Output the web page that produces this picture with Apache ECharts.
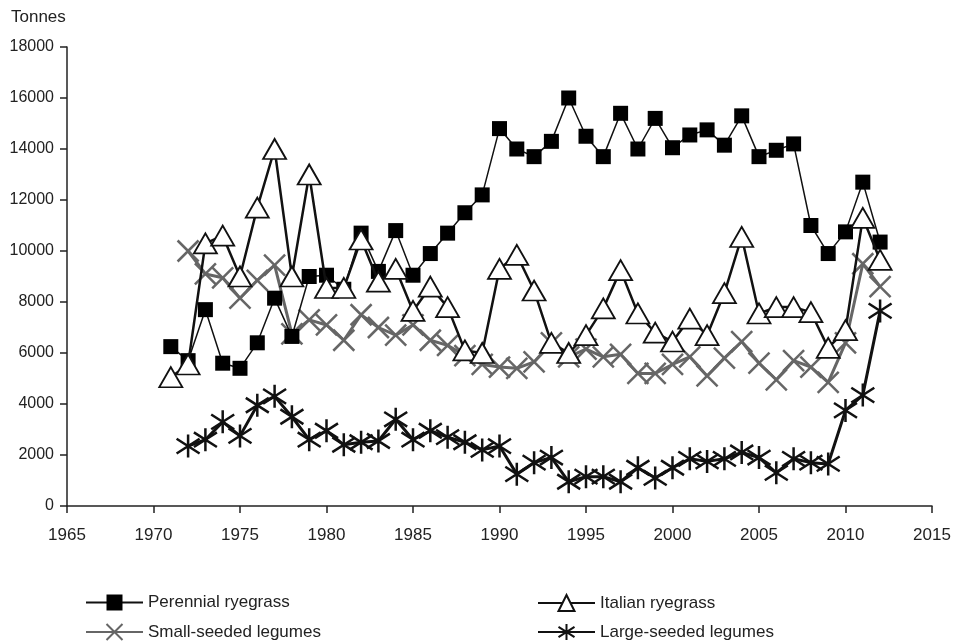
<!DOCTYPE html>
<html>
<head>
<meta charset="utf-8">
<script src="https://cdn.jsdelivr.net/npm/echarts@6/dist/echarts.min.js"></script>
<style>
html,body{margin:0;padding:0;background:#fff;}
#chart{width:960px;height:641px;}
</style>
</head>
<body>
<div id="chart"></div>
<script>
const years = [1971,1972,1973,1974,1975,1976,1977,1978,1979,1980,1981,1982,1983,1984,1985,1986,1987,1988,1989,1990,1991,1992,1993,1994,1995,1996,1997,1998,1999,2000,2001,2002,2003,2004,2005,2006,2007,2008,2009,2010,2011,2012];
const perennial = [6250,5700,7700,5600,5400,6400,8150,6650,9000,9050,8500,10700,9200,10800,9050,9900,10700,11500,12200,14800,14000,13700,14300,16000,14500,13700,15400,14000,15200,14050,14550,14750,14150,15300,13700,13950,14200,11000,9900,10750,12700,10350];
const italian = [5050,5550,10300,10600,9000,11700,14000,9000,13000,8550,8550,10450,8800,9300,7650,8600,7800,6100,6000,9300,9850,8450,6400,6000,6700,7750,9250,7550,6800,6450,7350,6700,8350,10550,7550,7800,7800,7600,6200,6900,11300,9650];
const smallYears = years.slice(1);
const smallSeeded = [10000,9100,8950,8150,8850,9450,6750,7300,7100,6500,7500,7000,6700,7100,6500,6300,5900,5550,5450,5400,5650,6400,5850,6150,5850,5950,5200,5200,5550,5850,5100,5800,6450,5600,4950,5700,5450,4850,6400,9500,8600];
const largeSeeded = [2350,2600,3300,2750,3950,4300,3500,2600,2950,2400,2500,2550,3400,2600,2950,2700,2500,2200,2350,1250,1700,1900,950,1150,1150,950,1500,1100,1500,1850,1750,1850,2100,1900,1300,1850,1700,1650,3750,4350,7650];
const seriesNames = ['Perennial ryegrass','Italian ryegrass','Small-seeded legumes','Large-seeded legumes'];
const yTitle = 'Tonnes';

const pairs = (xs, vs) => xs.map((x, i) => [x, vs[i]]);
const FONT = 'Liberation Sans, Arial, sans-serif';
const crossPath = 'path://M0,0L10,10M10,0L0,10';
const starPath = 'path://M5,0L5,10M1.3,1.8L8.7,8.2M8.7,1.8L1.3,8.2';

const chart = echarts.init(document.getElementById('chart'), null, {renderer: 'canvas'});
const legendBase = {
  orient: 'horizontal', itemWidth: 57, itemHeight: 20, itemGap: 10,
  textStyle: {fontFamily: FONT, fontSize: 17, color: '#222'},
  selectedMode: false
};
chart.setOption({
  animation: false,
  backgroundColor: '#fff',
  title: {text: yTitle, left: 11, top: 9, padding: 0, textStyle: {fontFamily: FONT, fontSize: 17, fontWeight: 'normal', color: '#222'}},
  grid: {left: 67, right: 28, top: 47, bottom: 135, containLabel: false},
  legend: [
    Object.assign({}, legendBase, {data: [seriesNames[0]], left: 80, top: 589}),
    Object.assign({}, legendBase, {data: [seriesNames[1]], left: 532, top: 589}),
    Object.assign({}, legendBase, {data: [seriesNames[2]], left: 80, top: 618}),
    Object.assign({}, legendBase, {data: [seriesNames[3]], left: 532, top: 618})
  ],
  xAxis: {
    type: 'value', min: 1965, max: 2015, interval: 5,
    axisLine: {lineStyle: {color: '#222', width: 1.5}},
    axisTick: {show: true, length: 7, lineStyle: {color: '#222', width: 1.5}},
    axisLabel: {fontFamily: FONT, fontSize: 17, color: '#222', margin: 21, formatter: v => String(v)},
    splitLine: {show: false}
  },
  yAxis: {
    type: 'value', min: 0, max: 18000, interval: 2000,
    axisLine: {show: true, lineStyle: {color: '#222', width: 1.5}},
    axisTick: {show: true, length: 7, lineStyle: {color: '#222', width: 1.5}},
    axisLabel: {fontFamily: FONT, fontSize: 16, color: '#222', margin: 13, formatter: v => String(v)},
    splitLine: {show: false}
  },
  series: [
    {
      name: seriesNames[2], type: 'line', z: 2, data: pairs(smallYears, smallSeeded),
      symbol: crossPath, symbolSize: 21,
      lineStyle: {color: '#666', width: 3},
      itemStyle: {color: 'rgba(0,0,0,0)', borderColor: '#666', borderWidth: 2.5},
      emphasis: {disabled: true}
    },
    {
      name: seriesNames[3], type: 'line', z: 3, data: pairs(smallYears, largeSeeded),
      symbol: starPath, symbolSize: 23,
      lineStyle: {color: '#111', width: 3},
      itemStyle: {color: 'rgba(0,0,0,0)', borderColor: '#111', borderWidth: 2.5},
      emphasis: {disabled: true}
    },
    {
      name: seriesNames[0], type: 'line', z: 4, data: pairs(years, perennial),
      symbol: 'rect', symbolSize: 15,
      lineStyle: {color: '#111', width: 1.5},
      itemStyle: {color: '#000', borderColor: '#000', borderWidth: 0},
      emphasis: {disabled: true}
    },
    {
      name: seriesNames[1], type: 'line', z: 5, data: pairs(years, italian),
      symbol: 'triangle', symbolSize: [23, 20],
      lineStyle: {color: '#111', width: 2.5},
      itemStyle: {color: '#fff', borderColor: '#111', borderWidth: 1.8},
      emphasis: {disabled: true}
    }
  ]
});
</script>
</body>
</html>
